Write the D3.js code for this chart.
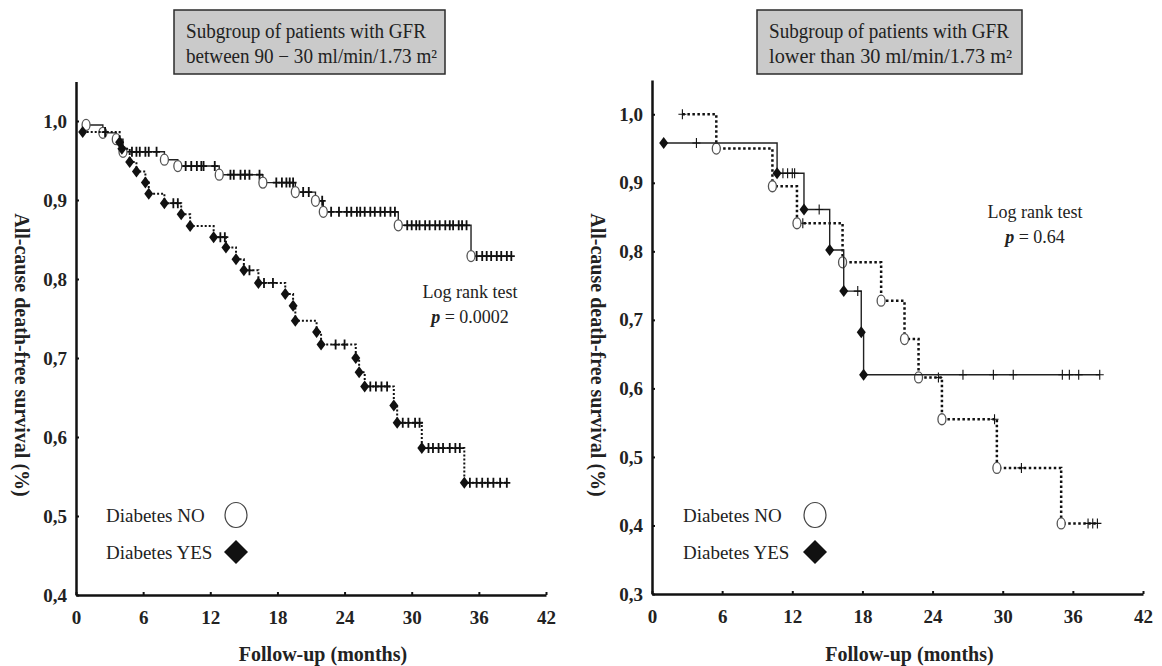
<!DOCTYPE html>
<html>
<head>
<meta charset="utf-8">
<script src="https://cdn.jsdelivr.net/npm/d3@7"></script>
<style>
  body { margin: 0; background: #fff; }
  svg { display: block; font-family: "Liberation Serif", "Times New Roman", serif; }
</style>
</head>
<body>
<svg id="chart" width="1162" height="666"></svg>
<script>
// ---- data ----
var monthTicks = [0, 6, 12, 18, 24, 30, 36, 42];
var leftSurvivalTicks = [0.4, 0.5, 0.6, 0.7, 0.8, 0.9, 1.0];
var rightSurvivalTicks = [0.3, 0.4, 0.5, 0.6, 0.7, 0.8, 0.9, 1.0];

var leftTitle = ["Subgroup of patients with GFR", "between 90 \u2212 30 ml/min/1.73 m\u00B2"];
var rightTitle = ["Subgroup of patients with GFR", "lower than 30 ml/min/1.73 m\u00B2"];
var legendLabels = ["Diabetes NO", "Diabetes YES"];
var xAxisLabel = "Follow-up (months)";
var yAxisLabel = "All-cause death-free survival (%)";
var leftPValue = "0.0002";
var rightPValue = "0.64";

// GFR 90-30, no diabetes: [month, survival] at each death
var midNoEvents = [[0.9, 0.995], [2.4, 0.985], [3.6, 0.977], [4.2, 0.961], [7.9, 0.951], [9.1, 0.943],
  [12.8, 0.932], [16.7, 0.922], [19.6, 0.910], [21.4, 0.899], [22.1, 0.885], [28.8, 0.868], [35.3, 0.829]];
var midNoCensored = [5.0, 5.4, 5.7, 6.2, 6.5, 7.2, 9.8, 10.3, 10.8, 11.2, 11.4, 12.4,
  13.8, 14.1, 14.7, 15.1, 15.5, 16.4, 17.9, 18.4, 18.8, 19.1, 19.4, 20.3, 20.8, 22.0,
  22.8, 23.5, 24.2, 24.6, 25.1, 25.4, 25.8, 26.3, 26.7, 27.2, 27.6, 28.1, 28.5,
  29.6, 30.0, 30.4, 30.7, 31.2, 31.6, 32.1, 32.5, 33.0, 33.4, 33.7, 34.2, 34.5, 34.9,
  35.8, 36.3, 36.7, 37.1, 37.6, 38.0, 38.5, 38.9];
var midNoEnd = 38.9;

// GFR 90-30, diabetes
var midYesEvents = [[0.6, 0.986], [3.9, 0.973], [4.1, 0.965], [4.8, 0.948], [5.4, 0.936], [6.2, 0.922],
  [6.5, 0.908], [7.9, 0.896], [9.4, 0.882], [10.2, 0.867], [12.3, 0.853], [13.4, 0.840], [14.3, 0.825],
  [15.0, 0.811], [16.3, 0.795], [18.7, 0.781], [19.4, 0.766], [19.6, 0.747], [21.5, 0.733], [21.9, 0.717],
  [25.0, 0.700], [25.3, 0.682], [25.8, 0.664], [28.4, 0.640], [28.7, 0.618], [30.9, 0.586], [34.7, 0.542]];
var midYesCensored = [2.6, 8.7, 9.1, 12.9, 13.3, 15.5, 16.8, 17.6, 23.2, 24.0,
  26.3, 26.8, 27.3, 27.8, 29.2, 29.7, 30.3, 30.7, 31.5, 31.9, 32.4, 32.8, 33.4, 33.9, 34.3,
  35.2, 35.8, 36.3, 36.8, 37.3, 37.9, 38.5];
var midYesEnd = 38.5;

// GFR < 30, no diabetes
var lowNoStart = [2.6, 1.0];
var lowNoEvents = [[5.5, 0.950], [10.3, 0.895], [12.4, 0.841], [16.3, 0.784], [19.6, 0.728],
  [21.6, 0.672], [22.8, 0.616], [24.8, 0.555], [29.5, 0.484], [35.0, 0.403]];
var lowNoCensored = [2.6, 12.9, 24.5, 29.3, 31.6, 37.3, 37.7, 38.1];
var lowNoEnd = 38.1;

// GFR < 30, diabetes
var lowYesEvents = [[1.0, 0.958], [10.7, 0.914], [13.0, 0.861], [15.2, 0.802], [16.4, 0.742],
  [17.9, 0.682], [18.1, 0.620]];
var lowYesCensored = [3.8, 11.2, 11.6, 12.0, 12.2, 14.3, 17.6, 26.6, 29.2, 30.9, 35.1, 35.7, 36.5, 38.3];
var lowYesEnd = 38.3;

// ---- drawing ----
var svg = d3.select("#chart");
var commaFormat = d3.formatLocale({ decimal: ",", thousands: ".", grouping: [3], currency: ["", ""] }).format(".1f");

function survivalAt(series, t) {
  var v = series.start[1];
  series.events.forEach(function (e) { if (e[0] <= t + 1e-9) v = e[1]; });
  return v;
}

function drawPanel(p) {
  var x = d3.scaleLinear().domain([0, 42]).range([p.left, p.right]);
  var y = d3.scaleLinear().domain([p.yMin, 1.05]).range([p.bottom, p.top]);
  var g = svg.append("g");

  // title box
  g.append("rect")
    .attr("x", p.box[0]).attr("y", 10)
    .attr("width", p.box[1] - p.box[0]).attr("height", 64)
    .attr("fill", "#cacaca").attr("stroke", "#2b2b2b").attr("stroke-width", 1.5);
  p.title.forEach(function (line, i) {
    g.append("text")
      .attr("x", p.box[0] + 12).attr("y", 38 + i * 25)
      .attr("font-size", 20).attr("fill", "#222")
      .attr("textLength", p.titleWidths[i]).attr("lengthAdjust", "spacingAndGlyphs")
      .text(line);
  });

  // axes
  var xAxis = g.append("g")
    .attr("transform", "translate(0," + p.bottom + ")")
    .call(d3.axisBottom(x).tickValues(monthTicks).tickSize(-3).tickSizeOuter(0).tickPadding(16));
  var yAxis = g.append("g")
    .attr("transform", "translate(" + p.left + ",0)")
    .call(d3.axisLeft(y).tickValues(p.yTicks).tickFormat(commaFormat).tickSize(-3).tickSizeOuter(0).tickPadding(9));
  [xAxis, yAxis].forEach(function (a) {
    a.select(".domain").attr("stroke", "#111").attr("stroke-width", 2.5);
    a.selectAll(".tick line").attr("stroke", "#111").attr("stroke-width", 2);
    a.selectAll("text")
      .attr("font-family", "Liberation Serif, serif")
      .attr("font-size", 19).attr("font-weight", "bold").attr("fill", "#222");
  });

  g.append("text")
    .attr("x", (p.left + p.right) / 2 + 12).attr("y", 661)
    .attr("text-anchor", "middle").attr("font-size", 20).attr("font-weight", "bold").attr("fill", "#222")
    .text(xAxisLabel);
  g.append("text")
    .attr("transform", "translate(" + (p.left - 61) + ",355) rotate(90)")
    .attr("text-anchor", "middle").attr("font-size", 20).attr("font-weight", "bold").attr("fill", "#222")
    .text(yAxisLabel);

  var line = d3.line()
    .x(function (d) { return x(d[0]); })
    .y(function (d) { return y(d[1]); })
    .curve(d3.curveStepAfter);

  p.series.forEach(function (s) {
    var last = s.events[s.events.length - 1][1];
    var pts = [s.start].concat(s.events).concat([[s.end, last]]);
    var dotted = s.style === "dotted";
    g.append("path")
      .datum(pts)
      .attr("d", line)
      .attr("fill", "none")
      .attr("stroke", dotted ? "#111" : "#222")
      .attr("stroke-width", dotted ? p.dotWidth : p.lineWidth)
      .attr("stroke-dasharray", dotted ? p.dash : null);

    // censor ticks
    g.selectAll(null)
      .data(s.censored)
      .enter().append("path")
      .attr("d", function (t) {
        var cx = x(t), cy = y(survivalAt(s, t));
        return "M" + (cx - p.tickW) + "," + cy + "H" + (cx + p.tickW) +
          "M" + cx + "," + (cy - 5) + "V" + (cy + 5);
      })
      .attr("stroke", "#111").attr("stroke-width", p.tickStroke).attr("fill", "none");

    // event markers
    if (s.marker === "circle") {
      g.selectAll(null).data(s.events).enter().append("ellipse")
        .attr("cx", function (d) { return x(d[0]); })
        .attr("cy", function (d) { return y(d[1]); })
        .attr("rx", 4).attr("ry", 5.5)
        .attr("fill", "#fff").attr("stroke", "#555").attr("stroke-width", 1.3);
    } else {
      g.selectAll(null).data(s.events).enter().append("path")
        .attr("d", function (d) {
          var cx = x(d[0]), cy = y(d[1]);
          return "M" + cx + "," + (cy - 6) + "L" + (cx + 4.5) + "," + cy + "L" + cx + "," + (cy + 6) + "L" + (cx - 4.5) + "," + cy + "Z";
        })
        .attr("fill", "#111");
    }
  });

  // log rank annotation
  g.append("text")
    .attr("x", p.logRank[0]).attr("y", p.logRank[1])
    .attr("text-anchor", "middle").attr("font-size", 18).attr("fill", "#222")
    .text("Log rank test");
  var pt = g.append("text")
    .attr("x", p.logRank[0]).attr("y", p.logRank[1] + 25)
    .attr("text-anchor", "middle").attr("font-size", 18).attr("fill", "#222");
  pt.append("tspan").attr("font-style", "italic").attr("font-weight", "bold").text("p");
  pt.append("tspan").text(" = " + p.pValue);

  // legend
  legendLabels.forEach(function (label, i) {
    g.append("text")
      .attr("x", p.legend[0]).attr("y", p.legend[1] + i * 37)
      .attr("font-size", 19).attr("fill", "#222")
      .text(label);
  });
  var lx = p.legend[2], ly = p.legend[1] - 7;
  g.append("ellipse").attr("cx", lx).attr("cy", ly).attr("rx", 11).attr("ry", 12.5)
    .attr("fill", "#fff").attr("stroke", "#444").attr("stroke-width", 1.2);
  g.append("path")
    .attr("d", "M" + lx + "," + (ly + 37 - 12) + "L" + (lx + 12) + "," + (ly + 37) + "L" + lx + "," + (ly + 37 + 12) + "L" + (lx - 12) + "," + (ly + 37) + "Z")
    .attr("fill", "#111");
}

drawPanel({
  left: 76, right: 546, top: 81.5, bottom: 595, yMin: 0.4, yTicks: leftSurvivalTicks,
  box: [174, 445], title: leftTitle, titleWidths: [240, 251],
  lineWidth: 1.4, dotWidth: 2, dash: "2,2", tickW: 3.5, tickStroke: 1.8,
  logRank: [470, 298], pValue: leftPValue,
  legend: [106, 522, 236],
  series: [
    { events: midNoEvents, start: midNoEvents[0], censored: midNoCensored, end: midNoEnd, style: "solid", marker: "circle" },
    { events: midYesEvents, start: midYesEvents[0], censored: midYesCensored, end: midYesEnd, style: "dotted", marker: "diamond" }
  ]
});

drawPanel({
  left: 652, right: 1143, top: 80, bottom: 594, yMin: 0.3, yTicks: rightSurvivalTicks,
  box: [757, 1022], title: rightTitle, titleWidths: [240, 243],
  lineWidth: 1.4, dotWidth: 2.5, dash: "2.5,2.5", tickW: 4, tickStroke: 1.1,
  logRank: [1035, 218], pValue: rightPValue,
  legend: [683, 522, 815],
  series: [
    { events: lowNoEvents, start: lowNoStart, censored: lowNoCensored, end: lowNoEnd, style: "dotted", marker: "circle" },
    { events: lowYesEvents, start: lowYesEvents[0], censored: lowYesCensored, end: lowYesEnd, style: "solid", marker: "diamond" }
  ]
});
</script>
</body>
</html>
